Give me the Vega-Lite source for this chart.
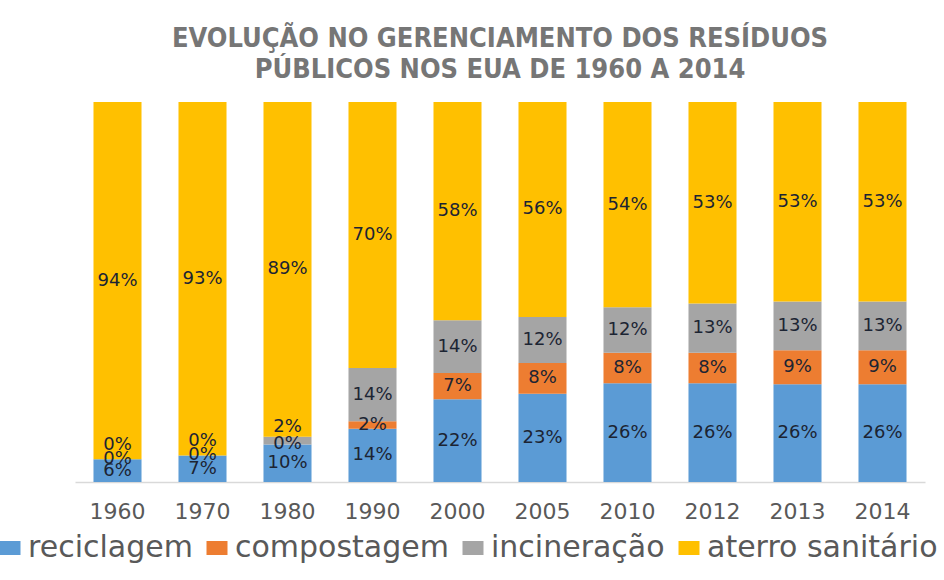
{
  "$schema": "https://vega.github.io/schema/vega-lite/v6.json",
  "width": 850,
  "height": 380,
  "autosize": {"type": "none"},
  "padding": {"left": 75, "top": 102, "right": 19, "bottom": 98},
  "background": "white",
  "config": {"view": {"stroke": null}},
  "title": {
    "text": ["EVOLUÇÃO NO GERENCIAMENTO DOS RESÍDUOS", "PÚBLICOS NOS EUA DE 1960 A 2014"],
    "font": "DejaVu Sans Condensed",
    "fontSize": 27,
    "fontWeight": "bold",
    "color": "#767676",
    "lineHeight": 31,
    "anchor": "middle",
    "offset": 18
  },
  "data": {
    "values": [
      {"ano": "1960", "tipo": "reciclagem", "o": 1, "v": 6},
      {"ano": "1960", "tipo": "compostagem", "o": 2, "v": 0},
      {"ano": "1960", "tipo": "incineração", "o": 3, "v": 0},
      {"ano": "1960", "tipo": "aterro sanitário", "o": 4, "v": 94},
      {"ano": "1970", "tipo": "reciclagem", "o": 1, "v": 7},
      {"ano": "1970", "tipo": "compostagem", "o": 2, "v": 0},
      {"ano": "1970", "tipo": "incineração", "o": 3, "v": 0},
      {"ano": "1970", "tipo": "aterro sanitário", "o": 4, "v": 93},
      {"ano": "1980", "tipo": "reciclagem", "o": 1, "v": 10},
      {"ano": "1980", "tipo": "compostagem", "o": 2, "v": 0},
      {"ano": "1980", "tipo": "incineração", "o": 3, "v": 2},
      {"ano": "1980", "tipo": "aterro sanitário", "o": 4, "v": 89},
      {"ano": "1990", "tipo": "reciclagem", "o": 1, "v": 14},
      {"ano": "1990", "tipo": "compostagem", "o": 2, "v": 2},
      {"ano": "1990", "tipo": "incineração", "o": 3, "v": 14},
      {"ano": "1990", "tipo": "aterro sanitário", "o": 4, "v": 70},
      {"ano": "2000", "tipo": "reciclagem", "o": 1, "v": 22},
      {"ano": "2000", "tipo": "compostagem", "o": 2, "v": 7},
      {"ano": "2000", "tipo": "incineração", "o": 3, "v": 14},
      {"ano": "2000", "tipo": "aterro sanitário", "o": 4, "v": 58},
      {"ano": "2005", "tipo": "reciclagem", "o": 1, "v": 23},
      {"ano": "2005", "tipo": "compostagem", "o": 2, "v": 8},
      {"ano": "2005", "tipo": "incineração", "o": 3, "v": 12},
      {"ano": "2005", "tipo": "aterro sanitário", "o": 4, "v": 56},
      {"ano": "2010", "tipo": "reciclagem", "o": 1, "v": 26},
      {"ano": "2010", "tipo": "compostagem", "o": 2, "v": 8},
      {"ano": "2010", "tipo": "incineração", "o": 3, "v": 12},
      {"ano": "2010", "tipo": "aterro sanitário", "o": 4, "v": 54},
      {"ano": "2012", "tipo": "reciclagem", "o": 1, "v": 26},
      {"ano": "2012", "tipo": "compostagem", "o": 2, "v": 8},
      {"ano": "2012", "tipo": "incineração", "o": 3, "v": 13},
      {"ano": "2012", "tipo": "aterro sanitário", "o": 4, "v": 53},
      {"ano": "2013", "tipo": "reciclagem", "o": 1, "v": 26},
      {"ano": "2013", "tipo": "compostagem", "o": 2, "v": 9},
      {"ano": "2013", "tipo": "incineração", "o": 3, "v": 13},
      {"ano": "2013", "tipo": "aterro sanitário", "o": 4, "v": 53},
      {"ano": "2014", "tipo": "reciclagem", "o": 1, "v": 26},
      {"ano": "2014", "tipo": "compostagem", "o": 2, "v": 9},
      {"ano": "2014", "tipo": "incineração", "o": 3, "v": 13},
      {"ano": "2014", "tipo": "aterro sanitário", "o": 4, "v": 53}
    ]
  },
  "transform": [
    {"stack": "v", "groupby": ["ano"], "sort": [{"field": "o"}], "as": ["v0", "v1"], "offset": "normalize"},
    {"calculate": "(datum.v0 + datum.v1) / 2", "as": "mid"},
    {"calculate": "datum.v + '%'", "as": "lbl"}
  ],
  "layer": [
    {
      "mark": {"type": "bar"},
      "encoding": {
        "x": {
          "field": "ano", "type": "nominal", "sort": null,
          "scale": {"paddingInner": 0.435, "paddingOuter": 0.2175},
          "axis": {
            "title": null, "labelAngle": 0, "labelFont": "DejaVu Sans", "labelFontSize": 22,
            "labelColor": "#595959", "ticks": false, "domainColor": "#d9d9d9", "domainWidth": 1.5,
            "labelPadding": 29, "labelBaseline": "middle"
          }
        },
        "y": {"field": "v0", "type": "quantitative", "scale": {"domain": [0, 1]}, "axis": null},
        "y2": {"field": "v1"},
        "color": {
          "field": "tipo", "type": "nominal",
          "scale": {
            "domain": ["reciclagem", "compostagem", "incineração", "aterro sanitário"],
            "range": ["#5b9bd5", "#ed7d31", "#a5a5a5", "#ffc000"]
          },
          "legend": {
            "orient": "none", "direction": "horizontal", "title": null,
            "legendX": -80, "legendY": 431, "padding": 0,
            "symbolType": "M-1,-0.667H1V0.667H-1Z", "symbolSize": 441, "symbolStrokeWidth": 0,
            "labelFont": "DejaVu Sans", "labelFontSize": 30, "labelColor": "#595959",
            "labelOffset": 3, "columnPadding": 9, "labelLimit": 400
          }
        },
        "order": {"field": "o"}
      }
    },
    {
      "transform": [{"filter": "!(datum.o == 3 && datum.v <= 2)"}],
      "mark": {"type": "text", "font": "DejaVu Sans", "fontSize": 18, "color": "#1c2433", "baseline": "middle"},
      "encoding": {
        "x": {"field": "ano", "type": "nominal", "sort": null},
        "y": {"field": "mid", "type": "quantitative"},
        "text": {"field": "lbl"}
      }
    },
    {
      "transform": [{"filter": "datum.o == 3 && datum.v <= 2"}],
      "mark": {"type": "text", "font": "DejaVu Sans", "fontSize": 18, "color": "#1c2433", "baseline": "middle", "dy": -14},
      "encoding": {
        "x": {"field": "ano", "type": "nominal", "sort": null},
        "y": {"field": "mid", "type": "quantitative"},
        "text": {"field": "lbl"}
      }
    }
  ]
}
